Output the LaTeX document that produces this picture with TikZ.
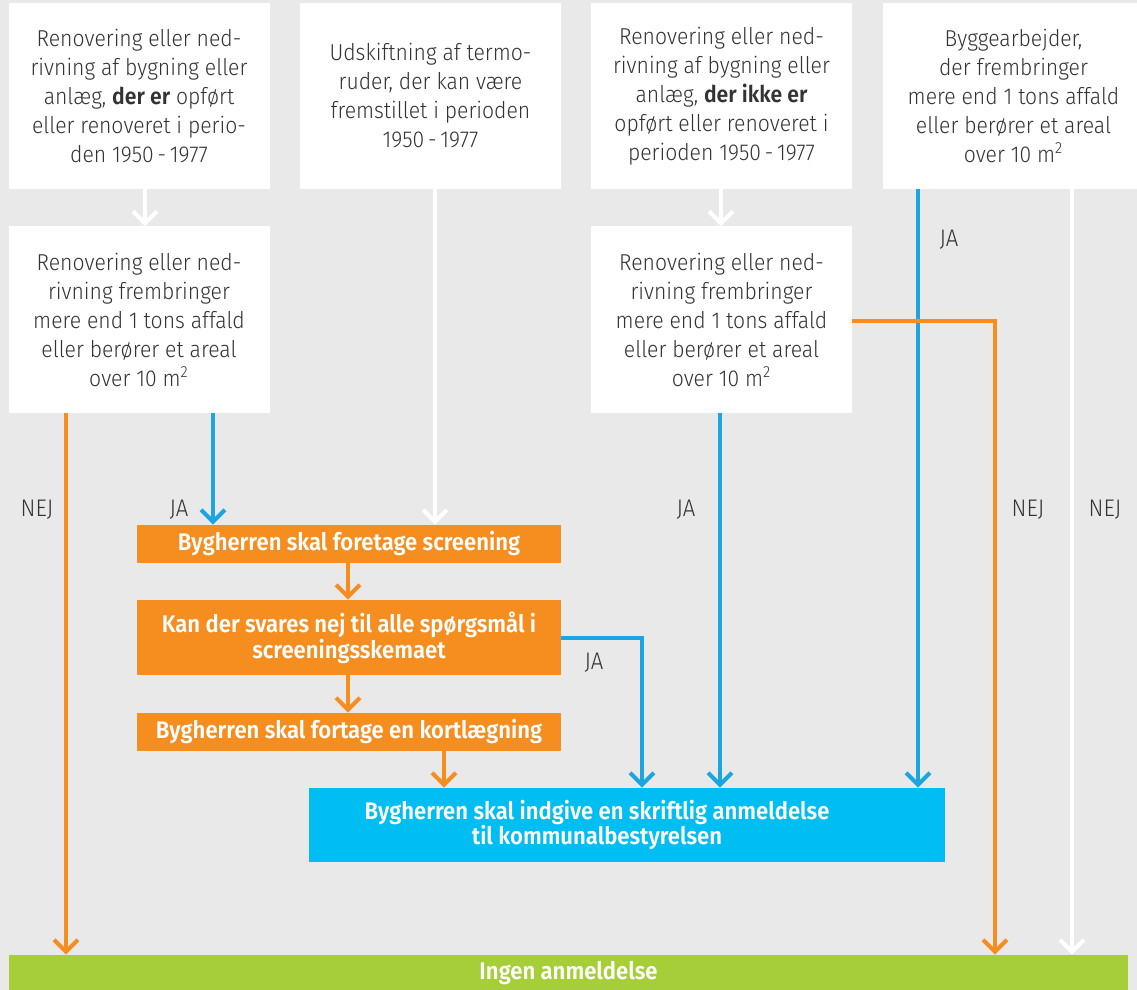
\documentclass[tikz,border=0pt]{standalone}
\usepackage{fontspec}
\setmainfont{Fira Sans}[UprightFont=* Light, BoldFont=* SemiBold, FakeStretch=0.92]
\usetikzlibrary{arrows.meta}

\definecolor{bggray}{HTML}{E9E9E9}
\definecolor{txtgray}{HTML}{333333}
\definecolor{orng}{HTML}{F68D1F}
\definecolor{skyblue}{HTML}{00BDF2}
\definecolor{lineblue}{HTML}{1BA6E1}
\definecolor{limegreen}{HTML}{A6CE39}

\tikzset{
	whitebox/.style={fill=white,minimum width=130.5pt,minimum height=93pt,inner sep=0pt,align=center,text=txtgray,font=\fontsize{11.5}{14.5}\selectfont},
	fillbox/.style={inner sep=0pt,align=center,text=white,font=\bfseries\fontsize{12}{13}\selectfont},
	flow/.style={line width=2pt,-{Straight Barb[length=6pt,width=12pt]}},
	answer/.style={text=txtgray,font=\fontsize{12}{13}\selectfont}
}

\begin{document}
\begin{tikzpicture}[x=0.5pt,y=-0.5pt]
	\useasboundingbox (0,0) rectangle (1137,990);
	\fill[bggray] (0,0) rectangle (1137,990);

	% top row
	\node[whitebox] (b1) at (139,96) {Renovering eller ned-\\rivning af bygning eller\\anlæg, \textbf{der er} opført\\eller renoveret i perio-\\den 1950\,-\,1977};
	\node[whitebox] (b2) at (430.5,96) {Udskiftning af termo-\\ruder, der kan være\\fremstillet i perioden\\1950\,-\,1977};
	\node[whitebox] (b3) at (721.5,96) {Renovering eller ned-\\rivning af bygning eller\\anlæg, \textbf{der ikke er}\\opført eller renoveret i\\perioden 1950\,-\,1977};
	\node[whitebox] (b4) at (1013.5,96) {Byggearbejder,\\der frembringer\\mere end 1 tons affald\\eller berører et areal\\over 10 m\textsuperscript{2}};

	% second row
	\node[whitebox] (b5) at (139,319.5) {Renovering eller ned-\\rivning frembringer\\mere end 1 tons affald\\eller berører et areal\\over 10 m\textsuperscript{2}};
	\node[whitebox] (b6) at (721.5,319.5) {Renovering eller ned-\\rivning frembringer\\mere end 1 tons affald\\eller berører et areal\\over 10 m\textsuperscript{2}};

	% orange steps
	\node[fillbox,fill=orng,minimum width=212pt,minimum height=19pt] (scr) at (349,544) {Bygherren skal foretage screening};
	\node[fillbox,fill=orng,minimum width=212pt,minimum height=37.5pt] (nej) at (349,637.5) {Kan der svares nej til alle spørgsmål i\\screeningsskemaet};
	\node[fillbox,fill=orng,minimum width=212pt,minimum height=19pt] (kort) at (349,732) {Bygherren skal fortage en kortlægning};

	% results
	\node[fill=skyblue,minimum width=318pt,minimum height=37pt,inner sep=0pt] (anm) at (627,825) {};
	\node[fillbox] (anmtxt) at (597,825) {Bygherren skal indgive en skriftlig anmeldelse\\til kommunalbestyrelsen};
	\node[fillbox,fill=limegreen,minimum width=559.5pt,minimum height=18pt] (ingen) at (568.5,973) {Ingen anmeldelse};

	% white connectors
	\draw[flow,white] (b1.south -| 145,0) -- (b5.north -| 145,0);
	\draw[flow,white] (b3.south -| 721,0) -- (b6.north -| 721,0);
	\draw[flow,white] (b2.south -| 435,0) -- (scr.north -| 435,0);
	\draw[flow,white] (b4.south -| 1072,0) -- (ingen.north -| 1072,0);

	% blue connectors
	\draw[flow,lineblue] (b5.south -| 213,0) -- (scr.north -| 213,0);
	\draw[flow,lineblue] (b6.south -| 720,0) -- (anm.north -| 720,0);
	\draw[flow,lineblue] (b4.south -| 918,0) -- (anm.north -| 918,0);
	\draw[flow,lineblue] (nej.east) -| (642,0 |- anm.north);

	% orange connectors
	\draw[flow,orng] (scr.south -| 348,0) -- (nej.north -| 348,0);
	\draw[flow,orng] (nej.south -| 348,0) -- (kort.north -| 348,0);
	\draw[flow,orng] (kort.south -| 444,0) -- (anm.north -| 444,0);
	\draw[flow,orng] (b5.south -| 66,0) -- (ingen.north -| 66,0);
	\draw[flow,orng] (b6.east |- 0,321) -| (995,0 |- ingen.north);

	% answers
	\foreach \x/\y/\t [count=\i] in {37/510/NEJ,179/510/JA,686/510/JA,1028/510/NEJ,1105/510/NEJ,949/240/JA,594/663/JA}
		\node[answer] (ans\i) at (\x,\y) {\t};
\end{tikzpicture}
\end{document}
